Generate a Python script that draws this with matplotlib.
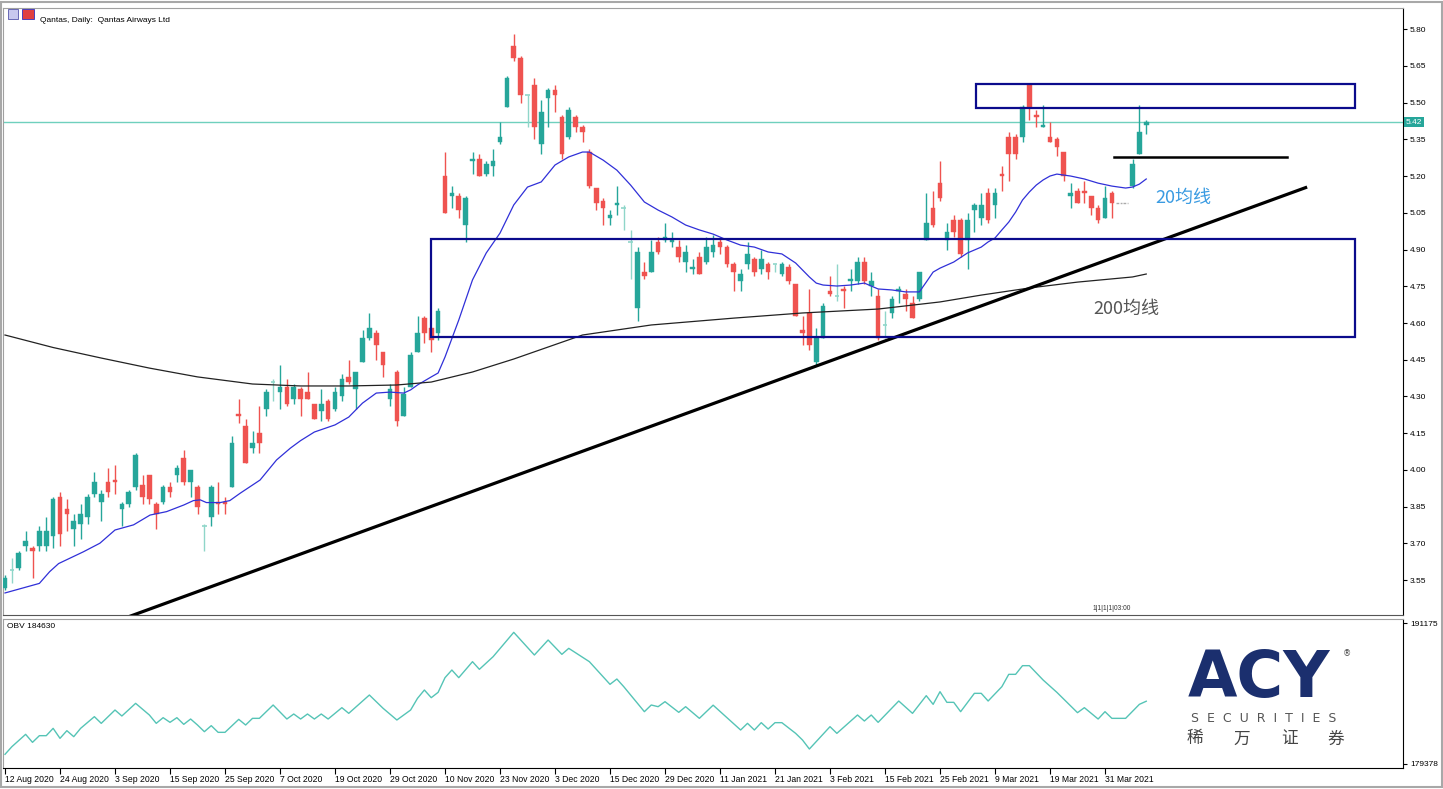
import numpy as np
import matplotlib
matplotlib.use("Agg")
from matplotlib import pyplot as plt
from matplotlib.patches import Rectangle

plt.rcParams['font.family'] = ['DejaVu Sans', 'Noto Sans CJK SC']

# ---- daily candles, Qantas (bar index 0 = 12 Aug 2020) ----
opens = [3.52, 3.59, 3.60, 3.69, 3.68, 3.69, 3.69, 3.73, 3.89, 3.84,
         3.76, 3.78, 3.81, 3.90, 3.87, 3.95, 3.96, 3.84, 3.86, 3.93,
         3.94, 3.98, 3.86, 3.87, 3.93, 3.98, 4.05, 3.95, 3.93, 3.77,
         3.81, 3.87, 3.87, 3.93, 4.23, 4.18, 4.09, 4.15, 4.25, 4.36,
         4.32, 4.34, 4.29, 4.33, 4.32, 4.27, 4.24, 4.28, 4.25, 4.30,
         4.38, 4.33, 4.44, 4.54, 4.56, 4.48, 4.29, 4.40, 4.22, 4.34,
         4.48, 4.62, 4.58, 4.56, 5.20, 5.12, 5.12, 5.00, 5.26, 5.27,
         5.21, 5.24, 5.34, 5.48, 5.73, 5.68, 5.53, 5.57, 5.33, 5.52,
         5.55, 5.44, 5.36, 5.44, 5.40, 5.30, 5.15, 5.10, 5.03, 5.08,
         5.07, 4.93, 4.66, 4.81, 4.81, 4.93, 4.94, 4.93, 4.91, 4.85,
         4.82, 4.87, 4.85, 4.89, 4.93, 4.91, 4.84, 4.77, 4.84, 4.86,
         4.82, 4.84, 4.84, 4.80, 4.83, 4.76, 4.57, 4.64, 4.44, 4.54,
         4.73, 4.71, 4.74, 4.77, 4.77, 4.85, 4.75, 4.71, 4.59, 4.64,
         4.73, 4.72, 4.68, 4.70, 4.94, 5.07, 5.17, 4.94, 5.02, 5.02,
         4.94, 5.06, 5.03, 5.13, 5.08, 5.21, 5.36, 5.36, 5.36, 5.57,
         5.45, 5.40, 5.36, 5.35, 5.30, 5.12, 5.14, 5.14, 5.12, 5.07,
         5.03, 5.13, 5.09, 5.09, 5.16, 5.29, 5.41]
highs = [3.57, 3.64, 3.67, 3.75, 3.69, 3.77, 3.81, 3.89, 3.91, 3.88,
         3.82, 3.86, 3.90, 3.99, 3.92, 4.01, 4.02, 3.87, 3.92, 4.07,
         3.98, 3.98, 3.87, 3.94, 3.95, 4.02, 4.08, 4.00, 3.94, 3.78,
         3.94, 3.95, 3.89, 4.14, 4.29, 4.21, 4.16, 4.26, 4.33, 4.37,
         4.43, 4.37, 4.35, 4.34, 4.40, 4.27, 4.33, 4.29, 4.34, 4.39,
         4.45, 4.40, 4.57, 4.64, 4.57, 4.48, 4.35, 4.41, 4.34, 4.48,
         4.63, 4.63, 4.58, 4.66, 5.30, 5.16, 5.13, 5.12, 5.30, 5.29,
         5.26, 5.31, 5.42, 5.61, 5.78, 5.69, 5.53, 5.60, 5.51, 5.56,
         5.57, 5.45, 5.48, 5.45, 5.41, 5.31, 5.15, 5.11, 5.06, 5.16,
         5.08, 4.98, 4.91, 4.85, 4.94, 4.95, 5.01, 4.97, 4.94, 4.92,
         4.86, 4.89, 4.95, 4.96, 4.95, 4.92, 4.85, 4.82, 4.93, 4.87,
         4.90, 4.85, 4.84, 4.85, 4.84, 4.76, 4.63, 4.74, 4.58, 4.68,
         4.79, 4.84, 4.75, 4.82, 4.87, 4.87, 4.81, 4.74, 4.65, 4.71,
         4.75, 4.74, 4.71, 4.81, 5.13, 5.14, 5.26, 5.01, 5.04, 5.03,
         5.05, 5.09, 5.13, 5.15, 5.15, 5.24, 5.38, 5.37, 5.49, 5.58,
         5.47, 5.49, 5.42, 5.36, 5.30, 5.17, 5.15, 5.18, 5.12, 5.08,
         5.16, 5.14, 5.09, 5.09, 5.27, 5.49, 5.43]
lows = [3.51, 3.54, 3.59, 3.67, 3.56, 3.67, 3.67, 3.68, 3.69, 3.75,
        3.69, 3.72, 3.78, 3.89, 3.79, 3.89, 3.90, 3.77, 3.85, 3.92,
        3.86, 3.86, 3.76, 3.86, 3.89, 3.95, 3.94, 3.89, 3.82, 3.67,
        3.77, 3.82, 3.82, 3.93, 4.19, 4.03, 4.07, 4.07, 4.22, 4.28,
        4.25, 4.26, 4.27, 4.22, 4.29, 4.21, 4.20, 4.20, 4.24, 4.28,
        4.35, 4.25, 4.44, 4.53, 4.45, 4.38, 4.26, 4.18, 4.22, 4.34,
        4.48, 4.52, 4.48, 4.53, 5.05, 5.07, 5.03, 4.93, 5.21, 5.20,
        5.20, 5.20, 5.33, 5.48, 5.67, 5.50, 5.40, 5.35, 5.29, 5.40,
        5.46, 5.27, 5.35, 5.38, 5.34, 5.15, 5.06, 5.00, 5.00, 5.04,
        4.98, 4.78, 4.61, 4.78, 4.81, 4.88, 4.93, 4.91, 4.85, 4.81,
        4.80, 4.80, 4.84, 4.87, 4.88, 4.83, 4.73, 4.73, 4.82, 4.79,
        4.80, 4.78, 4.81, 4.79, 4.76, 4.63, 4.51, 4.49, 4.43, 4.54,
        4.71, 4.69, 4.66, 4.73, 4.76, 4.76, 4.71, 4.53, 4.54, 4.62,
        4.68, 4.65, 4.62, 4.69, 4.94, 4.99, 5.10, 4.90, 4.95, 4.87,
        4.82, 4.97, 5.00, 5.01, 5.03, 5.14, 5.18, 5.27, 5.34, 5.43,
        5.40, 5.40, 5.34, 5.28, 5.18, 5.07, 5.09, 5.09, 5.04, 5.01,
        5.03, 5.03, 5.09, 5.09, 5.15, 5.29, 5.37]
closes = [3.56, 3.59, 3.66, 3.71, 3.67, 3.75, 3.75, 3.88, 3.74, 3.82,
          3.79, 3.82, 3.89, 3.95, 3.90, 3.91, 3.95, 3.86, 3.91, 4.06,
          3.89, 3.88, 3.82, 3.93, 3.91, 4.01, 3.95, 4.00, 3.85, 3.77,
          3.93, 3.86, 3.86, 4.11, 4.22, 4.03, 4.11, 4.11, 4.32, 4.36,
          4.34, 4.27, 4.34, 4.29, 4.29, 4.21, 4.27, 4.21, 4.32, 4.37,
          4.36, 4.40, 4.54, 4.58, 4.51, 4.43, 4.33, 4.20, 4.31, 4.47,
          4.56, 4.56, 4.53, 4.65, 5.05, 5.13, 5.06, 5.11, 5.27, 5.20,
          5.25, 5.26, 5.36, 5.60, 5.68, 5.53, 5.53, 5.40, 5.46, 5.55,
          5.53, 5.29, 5.47, 5.40, 5.38, 5.16, 5.09, 5.07, 5.04, 5.09,
          5.07, 4.93, 4.89, 4.79, 4.89, 4.89, 4.95, 4.94, 4.87, 4.89,
          4.83, 4.80, 4.91, 4.92, 4.91, 4.84, 4.81, 4.80, 4.88, 4.81,
          4.86, 4.81, 4.84, 4.84, 4.77, 4.63, 4.56, 4.51, 4.54, 4.67,
          4.72, 4.71, 4.73, 4.78, 4.85, 4.77, 4.77, 4.54, 4.59, 4.70,
          4.74, 4.70, 4.62, 4.81, 5.01, 5.00, 5.11, 4.97, 4.97, 4.88,
          5.02, 5.08, 5.08, 5.02, 5.13, 5.20, 5.29, 5.29, 5.48, 5.48,
          5.44, 5.41, 5.34, 5.32, 5.20, 5.13, 5.09, 5.13, 5.07, 5.02,
          5.11, 5.09, 5.09, 5.09, 5.25, 5.38, 5.42]

# moving averages (bar position, price)
ma20_idx = [0, 5, 6.5, 7.8, 11.4, 13.8, 16, 18.7, 21.1, 23.5, 26, 27.4, 28.4, 29.3, 31.3, 32.7, 34.2, 37.1, 39.5, 41.5,
            43, 45, 48, 50, 52, 54, 56, 58, 59, 60, 62, 63, 64, 66, 68, 70, 72, 74, 76, 78,
            80, 82, 84, 85, 87, 89, 91, 93, 95, 97, 99, 101, 103, 105, 107, 109, 111, 113, 115, 117,
            118, 119, 121, 123, 125, 127, 129, 131, 133, 134, 135, 136, 138, 140, 142, 143, 144, 145, 146, 147,
            148, 149, 150, 151, 152, 153, 155, 157, 159, 161, 163, 164, 165, 166]
ma20_val = [3.498, 3.537, 3.585, 3.618, 3.666, 3.701, 3.755, 3.776, 3.816, 3.830, 3.857, 3.875, 3.878, 3.867, 3.867, 3.875, 3.905, 3.959, 4.041, 4.089,
            4.12, 4.155, 4.184, 4.216, 4.273, 4.314, 4.318, 4.314, 4.327, 4.347, 4.380, 4.396, 4.461, 4.612, 4.776, 4.886, 4.967, 5.082, 5.155, 5.176,
            5.245, 5.278, 5.298, 5.298, 5.265, 5.224, 5.163, 5.094, 5.061, 5.033, 5.000, 4.980, 4.963, 4.939, 4.918, 4.910, 4.890, 4.882, 4.845, 4.788,
            4.763, 4.755, 4.751, 4.755, 4.763, 4.739, 4.735, 4.727, 4.727, 4.767, 4.808, 4.824, 4.849, 4.886, 4.910, 4.931, 4.947, 4.980, 5.012, 5.053,
            5.102, 5.135, 5.163, 5.184, 5.200, 5.208, 5.200, 5.188, 5.171, 5.159, 5.151, 5.155, 5.167, 5.188]
ma200_idx = [0, 7, 14, 21, 28, 36, 43, 50, 57, 62, 68, 74, 84, 94, 106, 116, 127, 136, 142, 149, 156, 164, 166]
ma200_val = [4.551, 4.500, 4.457, 4.416, 4.380, 4.351, 4.343, 4.343, 4.347, 4.359, 4.400, 4.453, 4.551, 4.592, 4.620,
             4.641, 4.657, 4.686, 4.714, 4.743, 4.767, 4.788, 4.800]

# OBV (bar index, value)
obv_idx = [0, 1, 3, 4, 5, 6, 7, 8, 9, 10, 11, 13, 14, 16, 17, 19, 21, 22, 23, 24,
           25, 26, 27, 28, 29, 30, 31, 32, 34, 35, 36, 37, 39, 41, 42, 43, 44, 45, 46, 47,
           49, 50, 53, 55, 57, 59, 60, 61, 62, 63, 64, 65, 66, 68, 69, 71, 74, 77, 79, 81,
           82, 85, 88, 89, 90, 93, 94, 95, 96, 98, 99, 101, 103, 107, 108, 109, 110, 111, 112, 113,
           115, 116, 117, 120, 121, 124, 125, 126, 127, 130, 132, 134, 135, 136, 137, 138, 139, 141, 142, 143,
           145, 146, 147, 148, 149, 151, 153, 156, 157, 159, 160, 161, 163, 165, 166]
obv_val = [180186, 180827, 181859, 181190, 181748, 181748, 182361, 181525, 182166, 181664,
           182361, 183338, 182780, 183895, 183393, 184453, 183477, 182780, 183254, 182863,
           183254, 182696, 183142, 182640, 182082, 182585, 182027, 182027, 183114, 182640,
           183198, 183198, 184314, 183142, 183561, 183142, 183561, 183142, 183561, 183142,
           184091, 183616, 185150, 184035, 183059, 183895, 184871, 185569, 184927, 185374,
           186601, 187242, 186601, 187939, 187298, 188358, 190394, 188497, 189752, 188553,
           189055, 187939, 186043, 186489, 185848, 183756, 184314, 184174, 184593, 183700,
           184174, 183198, 184300, 182222, 182780, 182222, 182836, 182305, 182836, 182836,
           181943, 181385, 180632, 182501, 181943, 183477, 182975, 183477, 182863, 184648,
           183616, 185095, 184369, 185429, 184537, 184537, 183756, 185290, 185290, 184648,
           185848, 186880, 186880, 187605, 187605, 186405, 185374, 183672, 184091, 183142,
           183756, 183198, 183198, 184369, 184630]

date_labels = ['12 Aug 2020', '24 Aug 2020', '3 Sep 2020', '15 Sep 2020', '25 Sep 2020',
               '7 Oct 2020', '19 Oct 2020', '29 Oct 2020', '10 Nov 2020', '23 Nov 2020',
               '3 Dec 2020', '15 Dec 2020', '29 Dec 2020', '11 Jan 2021', '21 Jan 2021',
               '3 Feb 2021', '15 Feb 2021', '25 Feb 2021', '9 Mar 2021', '19 Mar 2021',
               '31 Mar 2021']
price_ticks = [3.55, 3.70, 3.85, 4.00, 4.15, 4.30, 4.45, 4.60, 4.75, 4.90,
               5.05, 5.20, 5.35, 5.50, 5.65, 5.80]
last_price = 5.42

# drawn objects: (left idx, right idx, low price, high price)
boxes = [(62.0, 196.4, 4.543, 4.943), (141.2, 196.4, 5.478, 5.576)]
trend = ([17.9, 189.4], [3.400, 5.155])
hline = ([161.3, 186.5], 5.278)

GREEN = '#26a69a'
RED = '#ef5350'
DOJI = '#8fd6c9'
NAVY = '#0b0b8c'
SMALL = ['Liberation Sans', 'DejaVu Sans']

fig = plt.figure(figsize=(14.43, 7.89), dpi=100)
W, H = 1443, 789

def fbox(x0, y0, x1, y1):
    return [x0 / W, 1 - y1 / H, (x1 - x0) / W, (y1 - y0) / H]

ax = fig.add_axes(fbox(3, 8, 1403, 615))
ax2 = fig.add_axes(fbox(3, 619, 1403, 768))

n = len(closes)
o = np.array(opens); c = np.array(closes); h = np.array(highs); l = np.array(lows)

bw = 0.68
for i in range(n):
    if h[i] == l[i]:
        ax.hlines(c[i], i - 0.4, i + 0.4, color='#aaaaaa', lw=1, linestyles=(0, (2, 1)))
        continue
    if c[i] > o[i]:
        col = GREEN
    elif c[i] < o[i]:
        col = RED
    else:
        col = DOJI
    ax.vlines(i, l[i], h[i], color=col, lw=1, zorder=3)
    if c[i] == o[i]:
        ax.hlines(c[i], i - bw / 2, i + bw / 2, color=col, lw=1.2, zorder=3)
    else:
        ax.bar(i, abs(c[i] - o[i]), bottom=min(o[i], c[i]), width=bw, color=col,
               edgecolor=col, lw=0.3, zorder=3)

ax.plot(ma20_idx, ma20_val, color='#3030d8', lw=0.9, zorder=4)
ax.plot(ma200_idx, ma200_val, color='#222222', lw=0.9, zorder=4)
ax.plot(trend[0], trend[1], color='black', lw=2.3, zorder=5, solid_capstyle='butt')
ax.plot(hline[0], [hline[1], hline[1]], color='black', lw=1.8, zorder=5)
for x0, x1, y0, y1 in boxes:
    ax.add_patch(Rectangle((x0, y0), x1 - x0, y1 - y0, fill=False, ec=NAVY, lw=1.6, zorder=5))
ax.axhline(last_price, color='#6fd0bd', lw=1, zorder=2)

ax.text(167.3, 5.110, '20均线', color='#3a9be2', fontsize=13, va='center', ha='left',
        family=['Noto Sans CJK SC', 'DejaVu Sans'])
ax.text(158.3, 4.657, '200均线', color='#555555', fontsize=13, va='center', ha='left',
        family=['Noto Sans CJK SC', 'DejaVu Sans'])

xmin, xmax = (3 - 5) / 6.875, (1403 - 5) / 6.875
ax.set_xlim(xmin, xmax)
ax.set_ylim(3.408, 5.886)
ax.set_xticks([])
ax.yaxis.tick_right()
ax.set_yticks(price_ticks)
ax.set_yticklabels(['%.2f' % p for p in price_ticks], family=SMALL)
ax.tick_params(axis='y', direction='out', length=3, width=0.8, labelsize=6, pad=2, colors='#000000')
for s in ['left', 'top']:
    ax.spines[s].set_color('#a0a0a0')
ax.spines['right'].set_color('#000000')
ax.spines['bottom'].set_color('#555555')
for s in ax.spines.values():
    s.set_linewidth(0.8)

# price label on axis
ax.text(1.002, (last_price - 3.408) / (5.886 - 3.408), '%.2f' % last_price, transform=ax.transAxes,
        fontsize=6, color='white', va='center', ha='left', family=SMALL,
        bbox=dict(boxstyle='square,pad=0.2', fc='#26a69a', ec='none'))

ax.text(0.0265, 0.985, 'Qantas, Daily:  Qantas Airways Ltd', transform=ax.transAxes,
        fontsize=6, va='top', ha='left', family=SMALL)
fig.patches.append(Rectangle((8 / W, 1 - 19 / H), 10 / W, 10 / H, transform=fig.transFigure,
                             fc='#c8c8ee', ec='#5555aa', lw=0.6))
fig.patches.append(Rectangle((22 / W, 1 - 19 / H), 12 / W, 10 / H, transform=fig.transFigure,
                             fc='#e04040', ec='#3030c0', lw=0.6))
ax.text(158.2, 3.42, '1|1|1|1|03:00', fontsize=4.8, va='bottom', ha='left', color='#333333',
        family=SMALL)

# OBV panel
ax2.plot(obv_idx, obv_val, color='#55c4b6', lw=1)
ax2.set_xlim(xmin, xmax)
ax2.set_ylim(179043, 191510)
ax2.yaxis.tick_right()
ax2.set_yticks([179378, 191175])
ax2.set_yticklabels(['179378', '191175'], family=SMALL)
ax2.tick_params(axis='y', direction='out', length=3, width=0.8, labelsize=6, pad=2)
ax2.set_xticks(np.arange(len(date_labels)) * 8)
ax2.set_xticklabels(date_labels, ha='left', family=SMALL)
ax2.tick_params(axis='x', direction='out', length=4, width=0.8, labelsize=6.2, pad=1)
for s in ['left', 'top']:
    ax2.spines[s].set_color('#a0a0a0')
ax2.spines['right'].set_color('#000000')
ax2.spines['bottom'].set_color('#000000')
for s in ax2.spines.values():
    s.set_linewidth(0.8)
ax2.text(0.003, 0.97, 'OBV 184630', transform=ax2.transAxes, fontsize=6, va='top', ha='left',
         family=SMALL)

# window frame
fig.patches.append(Rectangle((0.5 / W, 0.003), 1 - 2 / W, 1 - 0.006, transform=fig.transFigure,
                             fill=False, ec='#a8a8a8', lw=1.5))

# ACY logo
fig.text(1188 / W, 1 - 710 / H, 'ACY', fontsize=46, fontweight='heavy', color='#1b2f6e',
         ha='left', va='bottom')
fig.text(1343 / W, 1 - 654 / H, '®', fontsize=6, color='#444444', ha='left', va='center')
fig.text(1264 / W, 1 - 719 / H, '  '.join('SECURITIES'), fontsize=9, color='#555555',
         ha='center', va='center')
cn = ['稀', '万', '证', '券']
for k, ch in enumerate(cn):
    fig.text((1195 + k * 47) / W, 1 - 739 / H, ch, fontsize=12, color='#444444',
             ha='center', va='center', family=['Noto Sans CJK SC'])

fig.savefig('out.png', dpi=100)
